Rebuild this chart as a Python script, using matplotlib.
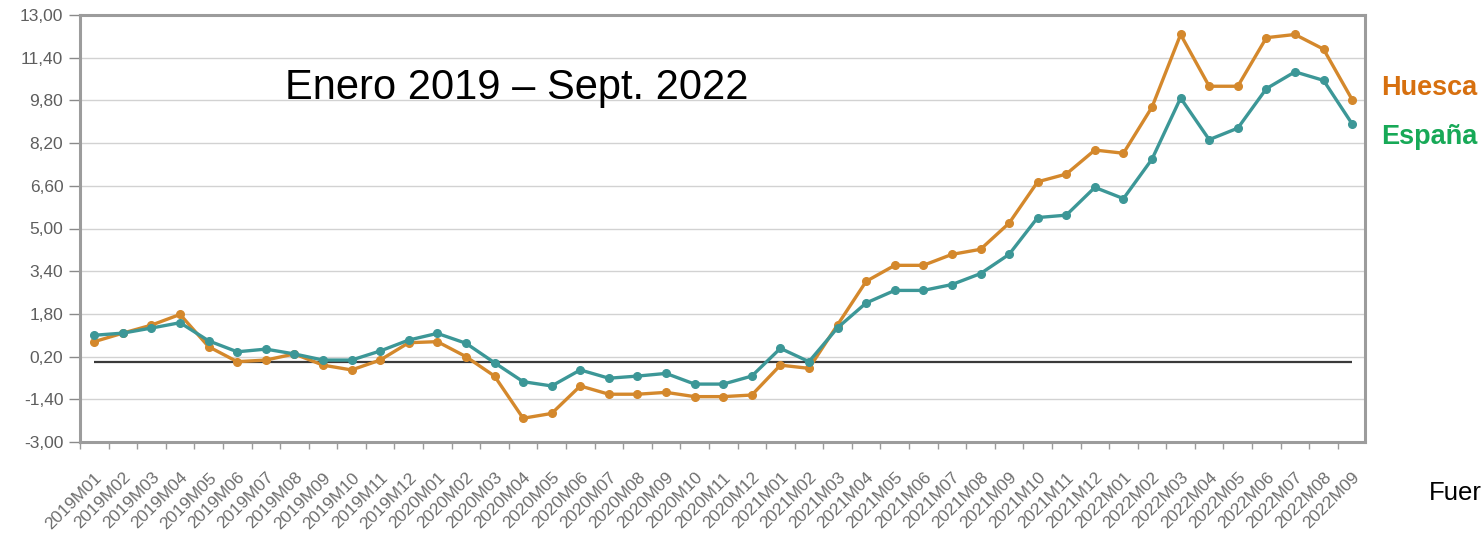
import matplotlib
matplotlib.use("Agg")
import matplotlib.pyplot as plt
from matplotlib.ticker import FixedLocator, FuncFormatter

# --- data ---------------------------------------------------------------
MONTHS = [f"{y}M{m:02d}" for y in (2019, 2020, 2021) for m in range(1, 13)] + \
         [f"2022M{m:02d}" for m in range(1, 10)]

HUESCA = [0.76, 1.08, 1.38, 1.78, 0.57, 0.01, 0.07, 0.30, -0.12, -0.30, 0.07, 0.72,
          0.76, 0.20, -0.53, -2.11, -1.93, -0.90, -1.21, -1.21, -1.14, -1.30, -1.30, -1.24,
          -0.12, -0.24, 1.39, 3.02, 3.62, 3.62, 4.03, 4.22, 5.20, 6.75, 7.04, 7.94,
          7.82, 9.55, 12.27, 10.33, 10.33, 12.15, 12.27, 11.72, 9.83]

ESPANA = [1.00, 1.08, 1.27, 1.47, 0.79, 0.38, 0.48, 0.30, 0.07, 0.07, 0.41, 0.82,
          1.07, 0.70, -0.03, -0.74, -0.90, -0.30, -0.61, -0.53, -0.43, -0.83, -0.83, -0.53,
          0.51, 0.01, 1.28, 2.21, 2.68, 2.68, 2.90, 3.31, 4.03, 5.41, 5.50, 6.54,
          6.12, 7.60, 9.89, 8.33, 8.76, 10.24, 10.87, 10.55, 8.92]

Y_TICKS = [-3.0, -1.4, 0.2, 1.8, 3.4, 5.0, 6.6, 8.2, 9.8, 11.4, 13.0]

ORANGE = "#d4882c"
TEAL = "#3c9797"

plt.rcParams["font.family"] = ["Liberation Sans", "DejaVu Sans"]

fig = plt.figure(figsize=(14.84, 5.45), dpi=100)
ax = fig.add_axes([80 / 1484, 1 - 442 / 545, 1285 / 1484, 427 / 545])

x = list(range(len(MONTHS)))
ax.plot(x, HUESCA, color=ORANGE, lw=2.4, marker="o", ms=5.5, zorder=3)
ax.plot(x, ESPANA, color=TEAL, lw=2.4, marker="o", ms=5.5, zorder=4)
ax.hlines(0, 0, len(MONTHS) - 1, color="#3a3a3a", lw=1.6, zorder=2)

ax.set_xlim(-0.5, len(MONTHS) - 0.55)
ax.set_ylim(-3.0, 13.0)

ax.yaxis.set_major_locator(FixedLocator(Y_TICKS))
ax.yaxis.set_major_formatter(FuncFormatter(lambda v, p: f"{v:.2f}".replace(".", ",")))
ax.grid(axis="y", color="#d2d2d2", lw=1.0, zorder=0)
ax.tick_params(axis="y", length=8, width=1, color="#8a8a8a", labelsize=12.5,
               labelcolor="#5e5e5e", pad=4)

ax.set_xticks(x)
ax.set_xticklabels(MONTHS, rotation=45, ha="right", rotation_mode="anchor",
                   fontsize=12.5, color="#6e6e6e")
ax.set_xticks([i + 0.5 for i in x[:-1]] + [-0.5], minor=True)
ax.tick_params(axis="x", which="major", length=0, pad=20)
ax.tick_params(axis="x", which="minor", length=5, width=1, color="#9a9a9a")

for s in ax.spines.values():
    s.set_color("#9c9c9c")
    s.set_linewidth(2.2)

fig.text(285 / 1484, 1 - 88 / 545, "Enero 2019 \u2013 Sept. 2022", fontsize=30,
         va="center", ha="left", color="black")
fig.text(1381 / 1484, 1 - 88 / 545, "Huesca", fontsize=19.5, fontweight="bold",
         color="#d7700f", va="center", ha="left")
fig.text(1381 / 1484, 1 - 137 / 545, "España", fontsize=19.5, fontweight="bold",
         color="#17a957", va="center", ha="left")
fig.text(1429 / 1484, 1 - 493 / 545, "Fuer", fontsize=18.5,
         va="center", ha="left", color="black")

fig.savefig("out.png", dpi=100)
